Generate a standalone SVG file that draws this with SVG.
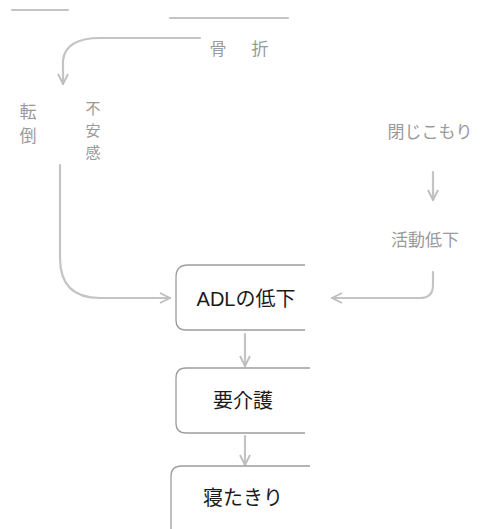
<svg xmlns="http://www.w3.org/2000/svg" width="486" height="529" viewBox="0 0 486 529">
<style>
.main{font-family:"Liberation Sans","Noto Sans CJK JP",sans-serif;font-size:20px;fill:#1a1a1a;text-anchor:middle}
.faint{font-family:"Noto Sans CJK JP",sans-serif;font-size:17px;fill:#9a9a9a;text-anchor:middle}
.sm{font-size:15px}
.box{fill:none;stroke:#9d9d9d;stroke-width:1.3}
.con{fill:none;stroke:#c4c4c4;stroke-width:2.2;stroke-linecap:round}
</style>
<defs>
<marker id="arr" viewBox="0 0 12 12" refX="11" refY="6" markerWidth="12" markerHeight="12" markerUnits="userSpaceOnUse" orient="auto">
<path d="M1,1 L11,6 L1,11" fill="none" stroke="#bdbdbd" stroke-width="1.8"/>
</marker>
</defs>
<rect width="486" height="529" fill="#ffffff"/>
<g id="connectors">
<path class="con" d="M12,10 H68"/>
<path class="con" d="M170,18 H288"/>
<path class="con" d="M200,38 H100 Q66,38 63,60 V84" marker-end="url(#arr)"/>
<path class="con" d="M60,165 V258 Q60,298 100,298 H170" marker-end="url(#arr)"/>
<path class="con" d="M433,172 V200" marker-end="url(#arr)"/>
<path class="con" d="M433,272 V285 Q433,298 420,298 H332" marker-end="url(#arr)"/>
<path class="con" d="M245,334 V366" marker-end="url(#arr)"/>
<path class="con" d="M245,436 V465" marker-end="url(#arr)"/>
</g>
<g id="top">
<text class="faint" x="218" y="55">骨</text>
<text class="faint" x="260" y="55">折</text>
</g>
<g id="left1">
<text class="faint" x="28" y="118">転</text>
<text class="faint" x="28" y="142">倒</text>
</g>
<g id="left2">
<text class="faint sm" x="93" y="114">不</text>
<text class="faint sm" x="93" y="136">安</text>
<text class="faint sm" x="93" y="158">感</text>
</g>
<g id="right1">
<text class="faint" x="430" y="138">閉じこもり</text>
</g>
<g id="right2">
<text class="faint" x="425" y="246">活動低下</text>
</g>
<g id="adl">
<path class="box" d="M305,265 H188 Q176,265 176,277 V320 Q176,330 186,330 H305"/>
<text class="main" x="246" y="306">ADLの低下</text>
</g>
<g id="kaigo">
<path class="box" d="M310,368 H186 Q176,368 176,378 V423 Q176,433 186,433 H305"/>
<text class="main" x="243" y="408">要介護</text>
</g>
<g id="netakiri">
<path class="box" d="M310,466 H182 Q171,466 171,476 V529"/>
<text class="main" x="243" y="505">寝たきり</text>
</g>
</svg>
